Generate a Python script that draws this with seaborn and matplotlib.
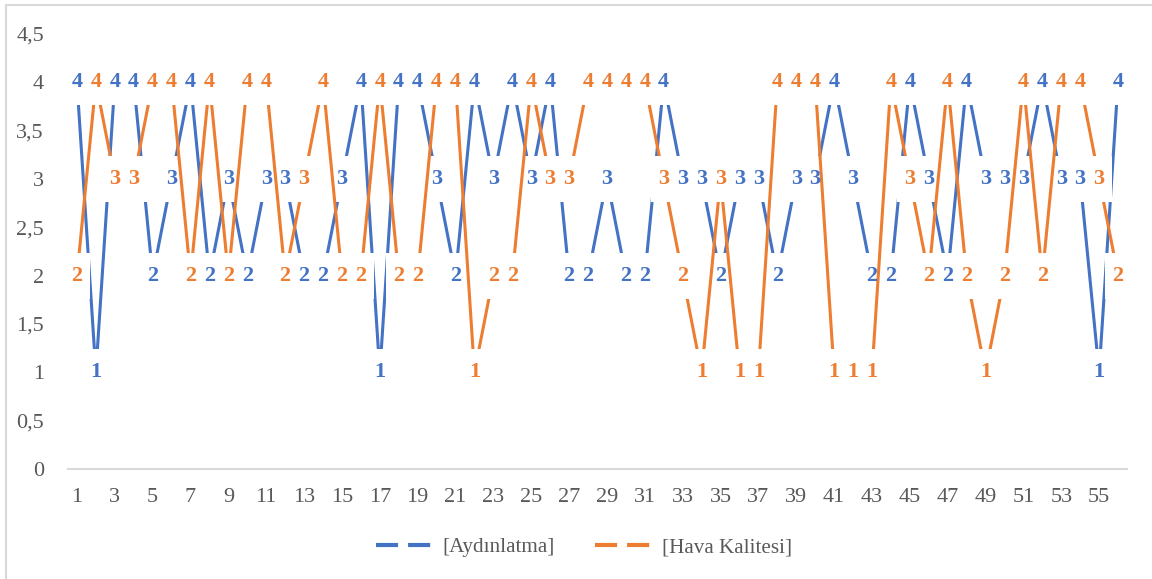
import numpy as np
import pandas as pd
import matplotlib.pyplot as plt
import seaborn as sns
from matplotlib.lines import Line2D
from matplotlib.ticker import FuncFormatter

obs = list(range(1, 57))
aydinlatma = [4, 1, 4, 4, 2, 3, 4, 2, 3, 2, 3, 3, 2, 2, 3, 4, 1, 4, 4, 3,
              2, 4, 3, 4, 3, 4, 2, 2, 3, 2, 2, 4, 3, 3, 2, 3, 3, 2, 3, 3,
              4, 3, 2, 2, 4, 3, 2, 4, 3, 3, 3, 4, 3, 3, 1, 4]
hava_kalitesi = [2, 4, 3, 3, 4, 4, 2, 4, 2, 4, 4, 2, 3, 4, 2, 2, 4, 2, 2, 4,
                 4, 1, 2, 2, 4, 3, 3, 4, 4, 4, 4, 3, 2, 1, 3, 1, 1, 4, 4, 4,
                 1, 1, 1, 4, 3, 2, 4, 2, 1, 2, 4, 2, 4, 4, 3, 2]
series_names = ['[Aydınlatma]', '[Hava Kalitesi]']
colors = ['#4472C4', '#ED7D31']
y_ticks = [0, 0.5, 1, 1.5, 2, 2.5, 3, 3.5, 4, 4.5]

df = pd.DataFrame({'obs': obs, series_names[0]: aydinlatma, series_names[1]: hava_kalitesi})

sns.set_style('white')
plt.rcParams['font.family'] = ['Liberation Serif', 'DejaVu Serif']

fig = plt.figure(figsize=(11.52, 5.79), dpi=100)
ax = fig.add_axes([67.5 / 1152, 110 / 579, 1060 / 1152, 435 / 579])

# white box behind every data label (Excel-style label fill), ~26x46 px
box_marker = [(-0.57, -1), (0.57, -1), (0.57, 1), (-0.57, 1)]
box_size = (46 * 0.72) ** 2

z = 1
for name, col in zip(series_names, colors):
    sns.lineplot(data=df, x='obs', y=name, color=col, linewidth=2.2, ax=ax,
                 zorder=z, legend=False)
    ax.scatter(df['obs'], df[name], marker=box_marker, s=box_size, color='white',
               linewidths=0, zorder=z + 1)
    z += 2

# labels drawn on top of everything
for name, col in zip(series_names, colors):
    for xv, yv in zip(df['obs'], df[name]):
        ax.text(xv, yv, str(yv), ha='center', va='center', color=col,
                fontsize=16, fontweight='bold', zorder=10)

ax.set_xlim(0.5, 56.5)
ax.set_ylim(0, 4.5)
ax.set_yticks(y_ticks)
ax.yaxis.set_major_formatter(FuncFormatter(lambda v, p: f'{v:g}'.replace('.', ',')))
ax.set_xticks(obs[::2])
ax.set_xlabel('')
ax.set_ylabel('')
ax.tick_params(axis='both', length=0, labelsize=16, labelcolor='#595959')
ax.tick_params(axis='y', pad=17)
ax.tick_params(axis='x', pad=14)

for s in ['top', 'right', 'left']:
    ax.spines[s].set_visible(False)
ax.spines['bottom'].set_color('#D9D9D9')
ax.spines['bottom'].set_linewidth(1.5)
ax.spines['bottom'].set_zorder(0.5)

handles = [Line2D([0], [0], color=c, linewidth=3, linestyle=(0, (5.3, 2.4)),
                  solid_capstyle='butt') for c in colors]
fig.legend(handles, series_names, loc='center', bbox_to_anchor=(0.507, 0.055),
           ncol=2, frameon=False, fontsize=15.2, labelcolor='#595959',
           handlelength=2.6, handletextpad=0.55, columnspacing=1.9)

# light chart border (left and top edges visible)
fig.add_artist(Line2D([6 / 1152, 6 / 1152], [0, 1 - 5 / 579], color='#D9D9D9',
                      linewidth=1.5, transform=fig.transFigure))
fig.add_artist(Line2D([6 / 1152, 1], [1 - 5 / 579, 1 - 5 / 579], color='#D9D9D9',
                      linewidth=1.5, transform=fig.transFigure))

fig.savefig('out.png', dpi=100)
